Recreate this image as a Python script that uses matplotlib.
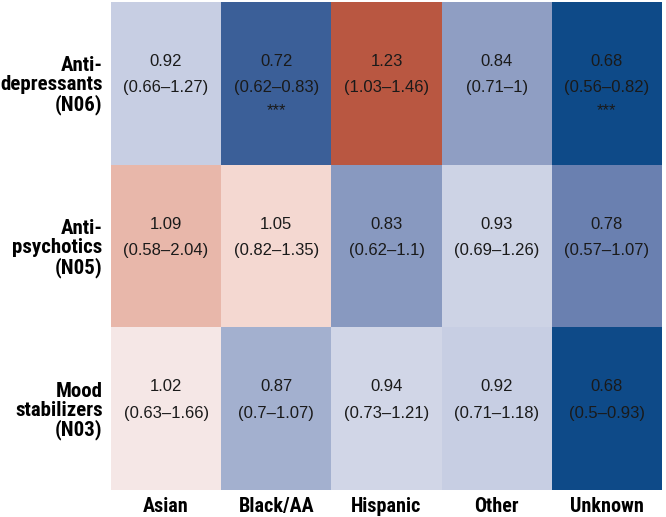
import numpy as np
import matplotlib
matplotlib.use("Agg")
import matplotlib.pyplot as plt
from matplotlib.colors import LinearSegmentedColormap, TwoSlopeNorm

# drug classes (rows) and race/ethnicity groups (columns)
drug_labels = ["Anti-\ndepressants\n(N06)", "Anti-\npsychotics\n(N05)", "Mood\nstabilizers\n(N03)"]
groups = ["Asian", "Black/AA", "Hispanic", "Other", "Unknown"]

odds = [
    [0.92, 0.72, 1.23, 0.84, 0.68],
    [1.09, 1.05, 0.83, 0.93, 0.78],
    [1.02, 0.87, 0.94, 0.92, 0.68],
]
ci = [
    ["(0.66\u20131.27)", "(0.62\u20130.83)", "(1.03\u20131.46)", "(0.71\u20131)", "(0.56\u20130.82)"],
    ["(0.58\u20132.04)", "(0.82\u20131.35)", "(0.62\u20131.1)", "(0.69\u20131.26)", "(0.57\u20131.07)"],
    ["(0.63\u20131.66)", "(0.7\u20131.07)", "(0.73\u20131.21)", "(0.71\u20131.18)", "(0.5\u20130.93)"],
]
stars = [
    ["", "***", "", "", "***"],
    ["", "", "", "", ""],
    ["", "", "", "", ""],
]

plt.rcParams['font.family'] = ['Liberation Sans', 'DejaVu Sans']

cmap = LinearSegmentedColormap.from_list("or", [
    (0.0, "#0e4a88"),
    (0.0625, "#3e6099"),
    (0.156, "#6a80b0"),
    (0.25, "#909fc4"),
    (0.375, "#c6cee3"),
    (0.5, "#f6f2f4"),
    (0.609, "#f4d8d1"),
    (0.696, "#e8b8ab"),
    (1.0, "#b95741"),
])
vals = np.array(odds)
norm = TwoSlopeNorm(vmin=vals.min(), vcenter=1.0, vmax=vals.max())

fig = plt.figure(figsize=(6.66, 5.17), dpi=100)
ax = fig.add_axes([111 / 666, 1 - 490 / 517, 551 / 666, 488 / 517])
ax.pcolormesh(np.arange(len(groups) + 1), np.arange(len(drug_labels) + 1), vals,
              cmap=cmap, norm=norm)
ax.set_xlim(0, len(groups))
ax.set_ylim(len(drug_labels), 0)

for i in range(len(drug_labels)):
    for j in range(len(groups)):
        cx, cy = j + 0.5, i + 0.5
        ax.text(cx, cy - 0.135, f"{odds[i][j]:g}", ha="center", va="center",
                fontsize=12, color="#1a1a1a")
        ax.text(cx, cy + 0.028, ci[i][j], ha="center", va="center",
                fontsize=12, color="#1a1a1a")
        if stars[i][j]:
            ax.text(cx, cy + 0.165, stars[i][j], ha="center", va="center",
                    fontsize=12, color="#1a1a1a")

cond = ['Roboto Condensed', 'Liberation Sans']
ax.set_xticks(np.arange(len(groups)) + 0.5)
ax.set_xticklabels(groups, family=cond, weight="bold", size=14.5)
ax.set_yticks(np.arange(len(drug_labels)) + 0.5)
ax.set_yticklabels(drug_labels, family=cond, weight="bold", size=15,
                   ha="right", linespacing=1.0)
ax.tick_params(length=0, pad=6)
ax.tick_params(axis="x", pad=5)
for s in ax.spines.values():
    s.set_visible(False)

fig.savefig("out.png", dpi=100)
